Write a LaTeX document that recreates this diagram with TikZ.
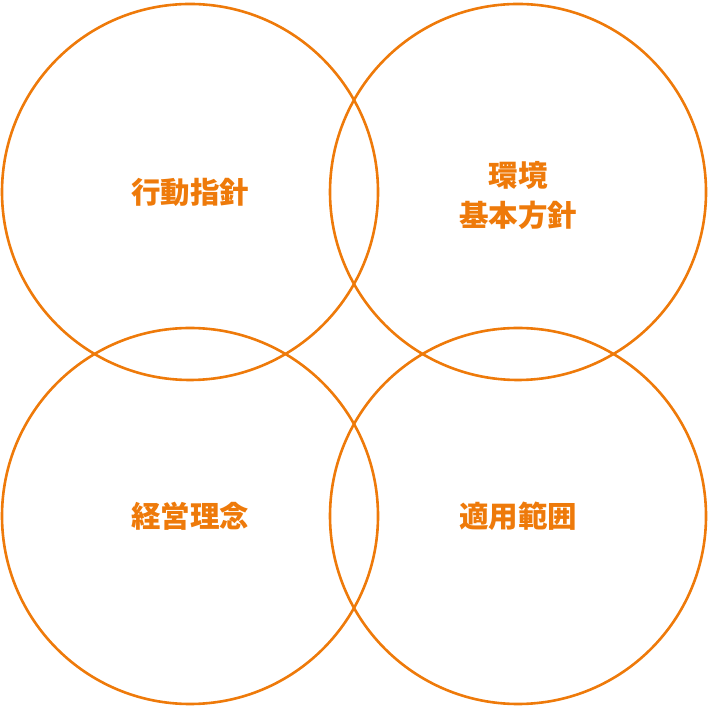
\documentclass[tikz,border=0pt]{standalone}
\usepackage{fontspec}
\newfontfamily\cjk{Noto Sans CJK JP}
\definecolor{ringorange}{HTML}{EE7A0A}

\begin{document}
\begin{tikzpicture}[
  x=1pt, y=1pt,
  ring/.style={draw=ringorange, line width=2.6pt},
  label/.style={text=ringorange, font=\cjk\bfseries\fontsize{29.5}{40}\selectfont, align=center}
]

\useasboundingbox (0,0) rectangle (708,706);

\draw [ring] (190,514) circle [radius=188];
\draw [ring] (518,514) circle [radius=188];
\draw [ring] (190,190) circle [radius=188];
\draw [ring] (518,190) circle [radius=188];

\node [label] (action) at (190,514) {行動指針};
\node [label] (policy) at (518,511) {環境\\基本方針};
\node [label] (philosophy) at (190,190) {経営理念};
\node [label] (scope) at (518,190) {適用範囲};

\end{tikzpicture}
\end{document}
